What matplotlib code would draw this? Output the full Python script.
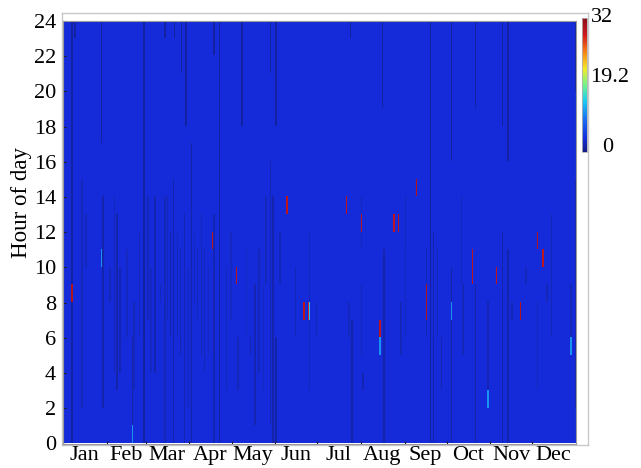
import numpy as np
import matplotlib
matplotlib.use("Agg")
import matplotlib.pyplot as plt
import matplotlib.transforms as mtransforms
from matplotlib.colors import LinearSegmentedColormap, Normalize

plt.rcParams['font.family'] = ['Liberation Serif', 'DejaVu Serif']

# ---------------- data ----------------
n_days = 365
n_hours = 24
base_level = 3.2
vmin, vmax = 0.0, 32.0

month_names = ['Jan', 'Feb', 'Mar', 'Apr', 'May', 'Jun',
               'Jul', 'Aug', 'Sep', 'Oct', 'Nov', 'Dec']
month_start = [0, 31, 59, 90, 120, 151, 181, 212, 243, 273, 304, 334]
month_mid = [15, 45, 74, 105, 135, 166, 196, 227, 258, 288, 319, 349]
hour_ticks = [0, 2, 4, 6, 8, 10, 12, 14, 16, 18, 20, 22, 24]
cbar_ticks = [0, 19.2, 32]
cbar_labels = ['0', '19.2', '32']

# low-value stripes: day, first hour, last hour (exclusive), value
stripe_day = [6, 8, 13, 16, 27, 28, 33, 36, 38, 40, 49, 50, 54, 57, 60, 65, 69,
              72, 72, 74, 76, 78, 79, 81, 83, 84, 86, 87, 89, 91, 95, 98, 100,
              107, 107, 111, 116, 124, 127, 133, 136, 139, 144, 147, 147, 149,
              151, 151, 154, 165, 175, 180, 204, 205, 212, 212, 227, 228, 240,
              243, 258, 261, 263, 266, 269, 276, 276, 283, 284, 293, 293, 302,
              312, 312, 316, 316, 319, 329, 337, 344, 347, 361, 364, 364,
              203, 213, 243, 45, 62, 93, 103, 119, 130, 142]
stripe_h0 = [0, 23, 2, 10, 17, 2, 8, 4, 3, 4, 1, 3, 6, 0, 7, 4, 8,
             23, 0, 7, 6, 0, 23, 6, 5, 21, 0, 18, 2, 0, 7, 5, 4,
             22, 0, 0, 3, 3, 18, 5, 1, 4, 9, 21, 1, 0,
             18, 0, 9, 6, 3, 6, 23, 0, 11, 5, 19, 0, 5,
             11, 6, 0, 0, 6, 3, 16, 0, 9, 5, 19, 0, 3,
             18, 0, 16, 0, 7, 9, 3, 8, 6, 6, 20, 2,
             6, 3, 6, 6, 4, 8, 5, 7, 6, 3]
stripe_h1 = [24, 24, 15, 13, 24, 14, 10, 14, 13, 10, 6, 8, 12, 24, 14, 14, 9,
             24, 14, 14, 12, 15, 24, 12, 11, 24, 13, 24, 10, 17, 11, 13, 11,
             24, 13, 24, 10, 6, 24, 6, 9, 11, 14, 24, 16, 14,
             24, 6, 12, 10, 12, 8, 24, 7, 14, 9, 24, 11, 8,
             14, 11, 24, 12, 11, 6, 24, 10, 14, 9, 24, 9, 8,
             24, 12, 24, 11, 8, 10, 8, 9, 13, 9, 24, 15,
             8, 4, 11, 11, 10, 12, 10, 12, 11, 9]
stripe_val = [1.2, 1.2, 2.0, 2.0, 1.2, 1.6, 2.0, 2.0, 1.6, 1.8, 1.6, 2.0, 2.0, 1.2, 2.0, 1.8, 2.0,
              1.2, 2.0, 2.0, 1.8, 1.6, 1.2, 2.0, 1.8, 1.2, 1.8, 1.2, 2.0, 1.4, 2.0, 2.0, 2.0,
              1.2, 1.8, 1.2, 2.0, 2.0, 1.2, 1.8, 1.8, 2.0, 2.0, 1.2, 1.8, 1.6,
              1.2, 1.4, 2.0, 2.0, 2.0, 2.0, 1.2, 1.6, 2.0, 2.0, 1.2, 1.6, 2.0,
              2.0, 2.0, 1.0, 1.6, 2.0, 1.8, 1.2, 1.6, 2.0, 2.0, 1.2, 1.6, 1.8,
              1.2, 1.6, 1.2, 1.6, 2.0, 2.0, 2.0, 2.0, 2.0, 2.0, 1.2, 1.6,
              2.2, 1.8, 2.2, 2.3, 2.3, 2.3, 2.3, 2.3, 2.3, 2.3]

# high-value cells: day, hour, value
event_day = [27, 49, 175, 225, 276, 302, 361,
             6, 106, 123, 159, 171, 174, 201, 212, 235, 238, 251, 225,
             258, 258, 291, 291, 308, 325, 337, 341]
event_hour = [10, 0, 7, 5, 7, 2, 5,
              8, 11, 9, 13, 7, 7, 13, 12, 12, 12, 14, 6,
              7, 8, 9, 10, 9, 7, 11, 10]
event_val = [9.5, 9.5, 12.0, 9.5, 9.5, 9.5, 9.5,
             29.5, 29.0, 29.0, 29.0, 29.0, 27.5, 29.0, 29.0, 29.0, 29.0, 29.5, 29.0,
             29.5, 29.5, 29.0, 29.0, 29.0, 29.5, 29.5, 29.0]

# ---------------- grid ----------------
Z = np.full((n_hours, n_days), base_level)
for d, h0, h1, v in zip(stripe_day, stripe_h0, stripe_h1, stripe_val):
    Z[h0:h1, d] = v
for d, h, v in zip(event_day, event_hour, event_val):
    Z[h, d] = v

cmap = LinearSegmentedColormap.from_list('jetlike', [
    (0.00, (0.07, 0.10, 0.52)),
    (0.05, (0.08, 0.15, 0.68)),
    (0.10, (0.086, 0.172, 0.862)),
    (0.25, (0.10, 0.45, 0.95)),
    (0.38, (0.10, 0.80, 0.95)),
    (0.50, (0.45, 0.95, 0.55)),
    (0.62, (0.95, 0.92, 0.15)),
    (0.75, (0.97, 0.50, 0.08)),
    (0.87, (0.82, 0.10, 0.12)),
    (1.00, (0.55, 0.05, 0.10)),
])
norm = Normalize(vmin=vmin, vmax=vmax)

# ---------------- figure ----------------
W, H = 641, 468
fig = plt.figure(figsize=(W / 100, H / 100), dpi=100)

def rect(x0, y0, x1, y1):
    return [x0 / W, 1 - y1 / H, (x1 - x0) / W, (y1 - y0) / H]

frame = fig.add_axes(rect(62, 13, 588, 445))
frame.set_xticks([])
frame.set_yticks([])
frame.patch.set_alpha(0)
for s in frame.spines.values():
    s.set_color('#c8c8c8')
    s.set_linewidth(1.0)

ax = fig.add_axes(rect(63, 21, 576, 443.5))
ax.imshow(Z, cmap=cmap, norm=norm, origin='lower', aspect='auto',
          extent=[0, n_days, 0, n_hours], interpolation='nearest')
ax.set_xlim(0, n_days)
ax.set_ylim(0, n_hours)
for s in ax.spines.values():
    s.set_color('#9a9a9a')
    s.set_linewidth(0.8)

ax.set_yticks(hour_ticks)
ax.set_yticklabels([str(h) for h in hour_ticks], fontsize=16)
ax.tick_params(axis='y', direction='in', length=2.5, width=0.8, color='#222222', pad=5)

ax.set_xticks(month_start)
ax.set_xticklabels([])
ax.set_xticks(month_mid, minor=True)
ax.set_xticklabels(month_names, minor=True, fontsize=16)
ax.tick_params(axis='x', which='major', direction='in', length=2.5, width=0.8, color='#222222')
ax.tick_params(axis='x', which='minor', length=0, pad=2)

ax.set_ylabel('Hour of day', fontsize=16.5)
ax.yaxis.set_label_coords(-0.06, 0.57)

cax = fig.add_axes(rect(582, 18, 587, 152))
sm = plt.cm.ScalarMappable(cmap=cmap, norm=norm)
cb = fig.colorbar(sm, cax=cax, ticks=cbar_ticks)
cb.ax.set_yticklabels(cbar_labels, fontsize=16)
cb.ax.tick_params(length=0, pad=3)
cb.outline.set_edgecolor('#b0b0b0')
cb.outline.set_linewidth(0.6)

# small label offsets to match the reference placement
offsets = {'0': (11, 7), '19.2': (-1, -3), '32': (0, 3)}
for lab in cb.ax.get_yticklabels():
    dx, dy = offsets.get(lab.get_text(), (0, 0))
    lab.set_transform(lab.get_transform() +
                      mtransforms.ScaledTranslation(dx / 100, dy / 100, fig.dpi_scale_trans))

fig.savefig('out.png', dpi=100)
